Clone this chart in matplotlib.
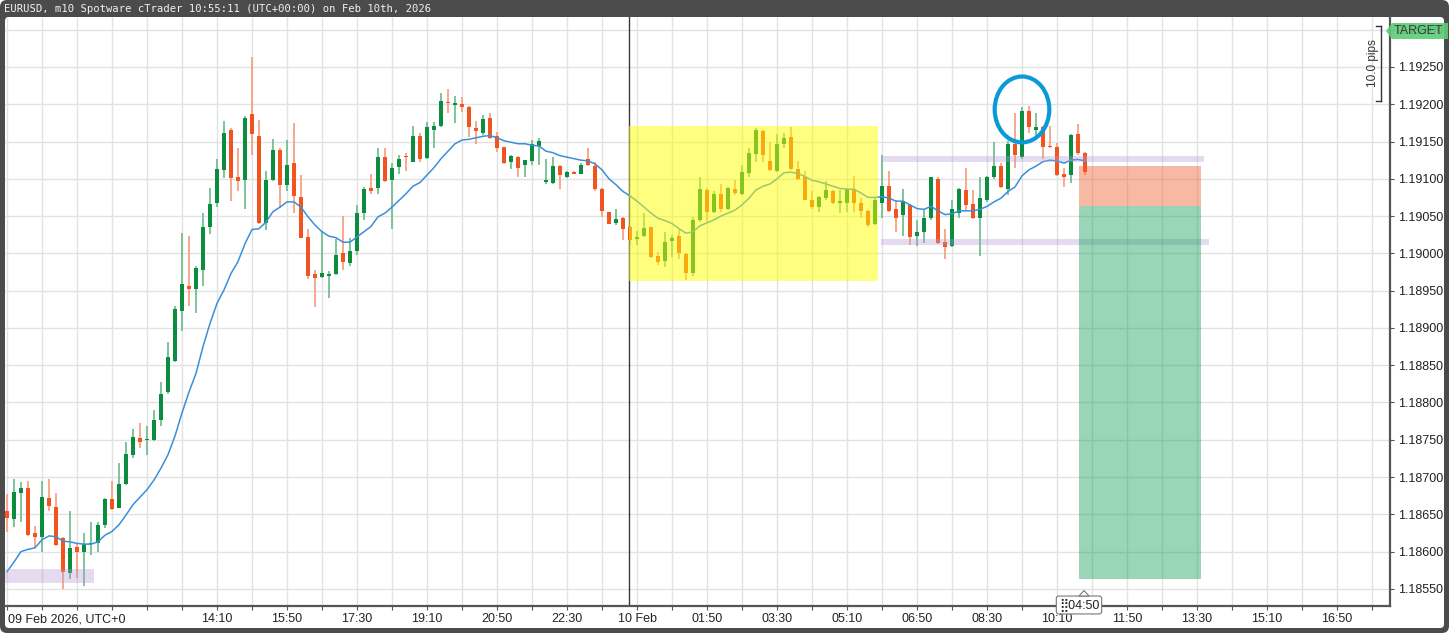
import numpy as np
import matplotlib
matplotlib.use('Agg')
import matplotlib.pyplot as plt
from matplotlib.patches import Rectangle, Ellipse, FancyBboxPatch, Polygon
from matplotlib.transforms import IdentityTransform

#%% data: EURUSD m10 bars, 09 Feb 2026 09:10 -> 10 Feb 2026 10:50 (UTC)
opens = [
    1.18654, 1.18644, 1.18679, 1.18685, 1.18625, 1.18619, 1.18672, 1.18660, 1.18618, 1.18571,
    1.18606, 1.18599, 1.18610, 1.18611, 1.18636, 1.18670, 1.18659, 1.18691, 1.18730, 1.18752,
    1.18749, 1.18749, 1.18776, 1.18814, 1.18856, 1.18923, 1.18956, 1.18952, 1.18978, 1.19036,
    1.19067, 1.19112, 1.19165, 1.19102, 1.19099, 1.19187, 1.19158, 1.19041, 1.19098, 1.19139,
    1.19091, 1.19121, 1.19076, 1.19022, 1.18972, 1.18968, 1.18970, 1.18972, 1.19000, 1.18987,
    1.19003, 1.19054, 1.19087, 1.19087, 1.19129, 1.19098, 1.19116, 1.19131, 1.19123, 1.19158,
    1.19128, 1.19166, 1.19171, 1.19203, 1.19200, 1.19200, 1.19196, 1.19168, 1.19162, 1.19181,
    1.19157, 1.19142, 1.19123, 1.19129, 1.19118, 1.19124, 1.19144, 1.19096, 1.19095, 1.19117,
    1.19103, 1.19109, 1.19107, 1.19126, 1.19117, 1.19086, 1.19055, 1.19041, 1.19047, 1.19036,
    1.19019, 1.19023, 1.19035, 1.18997, 1.18990, 1.19017, 1.19023, 1.18999, 1.18973, 1.19045,
    1.19085, 1.19056, 1.19080, 1.19059, 1.19086, 1.19079, 1.19108, 1.19133, 1.19164, 1.19124,
    1.19111, 1.19146, 1.19156, 1.19113, 1.19103, 1.19072, 1.19062, 1.19074, 1.19083, 1.19068,
    1.19067, 1.19086, 1.19067, 1.19057, 1.19039, 1.19068, 1.19090, 1.19059, 1.19051, 1.19065,
    1.19023, 1.19029, 1.19047, 1.19100, 1.19015, 1.19010, 1.19054, 1.19085, 1.19066, 1.19048,
    1.19071, 1.19102, 1.19117, 1.19086, 1.19147, 1.19129, 1.19191, 1.19165, 1.19170, 1.19144,
    1.19142, 1.19106, 1.19105, 1.19160, 1.19135]
highs = [
    1.18677, 1.18697, 1.18693, 1.18694, 1.18634, 1.18694, 1.18697, 1.18679, 1.18620, 1.18655,
    1.18610, 1.18625, 1.18640, 1.18640, 1.18672, 1.18694, 1.18719, 1.18747, 1.18765, 1.18773,
    1.18768, 1.18790, 1.18828, 1.18881, 1.18929, 1.19027, 1.19023, 1.18983, 1.19054, 1.19087,
    1.19127, 1.19177, 1.19168, 1.19141, 1.19184, 1.19264, 1.19179, 1.19110, 1.19153, 1.19141,
    1.19152, 1.19175, 1.19105, 1.19033, 1.18978, 1.19030, 1.18976, 1.19019, 1.19050, 1.19021,
    1.19065, 1.19089, 1.19107, 1.19141, 1.19141, 1.19121, 1.19132, 1.19135, 1.19171, 1.19161,
    1.19176, 1.19176, 1.19215, 1.19220, 1.19211, 1.19210, 1.19197, 1.19178, 1.19185, 1.19188,
    1.19163, 1.19143, 1.19132, 1.19130, 1.19125, 1.19152, 1.19155, 1.19127, 1.19129, 1.19118,
    1.19111, 1.19110, 1.19121, 1.19141, 1.19123, 1.19087, 1.19056, 1.19059, 1.19049, 1.19037,
    1.19030, 1.19054, 1.19036, 1.19002, 1.19029, 1.19024, 1.19031, 1.19001, 1.19049, 1.19102,
    1.19087, 1.19083, 1.19093, 1.19089, 1.19098, 1.19118, 1.19141, 1.19168, 1.19166, 1.19150,
    1.19160, 1.19161, 1.19169, 1.19124, 1.19110, 1.19083, 1.19077, 1.19097, 1.19085, 1.19085,
    1.19087, 1.19104, 1.19074, 1.19058, 1.19076, 1.19132, 1.19110, 1.19071, 1.19086, 1.19066,
    1.19045, 1.19059, 1.19103, 1.19102, 1.19032, 1.19071, 1.19087, 1.19115, 1.19085, 1.19102,
    1.19104, 1.19150, 1.19121, 1.19151, 1.19188, 1.19196, 1.19198, 1.19188, 1.19171, 1.19171,
    1.19148, 1.19114, 1.19160, 1.19173, 1.19136]
lows = [
    1.18626, 1.18633, 1.18640, 1.18621, 1.18605, 1.18600, 1.18655, 1.18608, 1.18550, 1.18563,
    1.18565, 1.18554, 1.18596, 1.18600, 1.18631, 1.18656, 1.18658, 1.18689, 1.18726, 1.18739,
    1.18730, 1.18748, 1.18769, 1.18812, 1.18854, 1.18896, 1.18929, 1.18920, 1.18956, 1.19026,
    1.19062, 1.19101, 1.19070, 1.19083, 1.19059, 1.19132, 1.19040, 1.19031, 1.19097, 1.19061,
    1.19084, 1.19054, 1.19020, 1.18965, 1.18928, 1.18967, 1.18940, 1.18971, 1.18978, 1.18983,
    1.18998, 1.19045, 1.19080, 1.19079, 1.19096, 1.19033, 1.19106, 1.19111, 1.19122, 1.19123,
    1.19127, 1.19141, 1.19170, 1.19188, 1.19175, 1.19190, 1.19156, 1.19147, 1.19159, 1.19154,
    1.19136, 1.19120, 1.19113, 1.19103, 1.19103, 1.19118, 1.19119, 1.19093, 1.19093, 1.19086,
    1.19101, 1.19106, 1.19106, 1.19117, 1.19083, 1.19049, 1.19039, 1.19038, 1.19018, 1.19011,
    1.19011, 1.19022, 1.18994, 1.18984, 1.18982, 1.18995, 1.18993, 1.18964, 1.18969, 1.19042,
    1.19042, 1.19054, 1.19056, 1.19058, 1.19078, 1.19078, 1.19103, 1.19123, 1.19123, 1.19111,
    1.19109, 1.19141, 1.19112, 1.19098, 1.19071, 1.19060, 1.19056, 1.19071, 1.19066, 1.19054,
    1.19056, 1.19056, 1.19048, 1.19035, 1.19038, 1.19047, 1.19056, 1.19029, 1.19023, 1.19011,
    1.19010, 1.19014, 1.19045, 1.19013, 1.18993, 1.19009, 1.19048, 1.19058, 1.19046, 1.18996,
    1.19069, 1.19100, 1.19088, 1.19078, 1.19114, 1.19127, 1.19162, 1.19153, 1.19126, 1.19141,
    1.19104, 1.19089, 1.19094, 1.19132, 1.19105]
closes = [
    1.18645, 1.18680, 1.18685, 1.18622, 1.18620, 1.18673, 1.18661, 1.18609, 1.18572, 1.18605,
    1.18600, 1.18610, 1.18611, 1.18636, 1.18670, 1.18657, 1.18691, 1.18731, 1.18754, 1.18747,
    1.18751, 1.18777, 1.18811, 1.18861, 1.18925, 1.18959, 1.18952, 1.18980, 1.19035, 1.19066,
    1.19113, 1.19162, 1.19101, 1.19097, 1.19182, 1.19160, 1.19041, 1.19098, 1.19138, 1.19092,
    1.19119, 1.19077, 1.19021, 1.18970, 1.18967, 1.18973, 1.18972, 1.18998, 1.18989, 1.19003,
    1.19054, 1.19086, 1.19084, 1.19129, 1.19097, 1.19115, 1.19127, 1.19129, 1.19157, 1.19126,
    1.19169, 1.19171, 1.19205, 1.19201, 1.19201, 1.19196, 1.19169, 1.19164, 1.19180, 1.19155,
    1.19141, 1.19121, 1.19130, 1.19114, 1.19125, 1.19146, 1.19151, 1.19098, 1.19117, 1.19105,
    1.19109, 1.19107, 1.19118, 1.19118, 1.19086, 1.19057, 1.19040, 1.19046, 1.19033, 1.19018,
    1.19022, 1.19034, 1.18995, 1.18989, 1.19015, 1.19021, 1.19001, 1.18974, 1.19045, 1.19086,
    1.19056, 1.19079, 1.19059, 1.19088, 1.19081, 1.19109, 1.19134, 1.19165, 1.19132, 1.19112,
    1.19146, 1.19155, 1.19113, 1.19100, 1.19072, 1.19062, 1.19075, 1.19085, 1.19067, 1.19070,
    1.19086, 1.19068, 1.19057, 1.19038, 1.19071, 1.19090, 1.19057, 1.19048, 1.19070, 1.19022,
    1.19029, 1.19047, 1.19102, 1.19014, 1.19009, 1.19059, 1.19086, 1.19065, 1.19047, 1.19074,
    1.19102, 1.19117, 1.19089, 1.19147, 1.19132, 1.19191, 1.19169, 1.19170, 1.19142, 1.19142,
    1.19105, 1.19103, 1.19159, 1.19135, 1.19109]
# moving average line as drawn on the chart
ma_line = [
    1.18573, 1.18586, 1.18600, 1.18603, 1.18605, 1.18616, 1.18621, 1.18620, 1.18614, 1.18613,
    1.18611, 1.18610, 1.18610, 1.18613, 1.18622, 1.18627, 1.18636, 1.18649, 1.18663, 1.18673,
    1.18683, 1.18696, 1.18712, 1.18730, 1.18755, 1.18786, 1.18814, 1.18839, 1.18875, 1.18906,
    1.18933, 1.18951, 1.18973, 1.18989, 1.19013, 1.19032, 1.19033, 1.19042, 1.19056, 1.19062,
    1.19069, 1.19069, 1.19062, 1.19049, 1.19038, 1.19029, 1.19023, 1.19021, 1.19015, 1.19015,
    1.19022, 1.19029, 1.19036, 1.19049, 1.19054, 1.19062, 1.19071, 1.19080, 1.19090, 1.19095,
    1.19105, 1.19115, 1.19127, 1.19137, 1.19147, 1.19152, 1.19153, 1.19155, 1.19157, 1.19158,
    1.19155, 1.19151, 1.19149, 1.19147, 1.19147, 1.19145, 1.19144, 1.19137, 1.19135, 1.19131,
    1.19129, 1.19127, 1.19125, 1.19124, 1.19120, 1.19112, 1.19100, 1.19092, 1.19083, 1.19077,
    1.19070, 1.19062, 1.19054, 1.19047, 1.19044, 1.19040, 1.19033, 1.19027, 1.19029, 1.19037,
    1.19041, 1.19045, 1.19050, 1.19054, 1.19058, 1.19065, 1.19074, 1.19085, 1.19090, 1.19093,
    1.19100, 1.19108, 1.19109, 1.19107, 1.19103, 1.19098, 1.19096, 1.19093, 1.19090, 1.19087,
    1.19086, 1.19086, 1.19081, 1.19075, 1.19075, 1.19076, 1.19074, 1.19070, 1.19070, 1.19065,
    1.19060, 1.19059, 1.19063, 1.19057, 1.19052, 1.19053, 1.19057, 1.19057, 1.19057, 1.19059,
    1.19063, 1.19069, 1.19074, 1.19083, 1.19089, 1.19104, 1.19112, 1.19117, 1.19123, 1.19125,
    1.19124, 1.19121, 1.19125, 1.19126, 1.19124]

price_ticks = [1.18550, 1.18600, 1.18650, 1.18700, 1.18750, 1.18800, 1.18850, 1.18900,
               1.18950, 1.19000, 1.19050, 1.19100, 1.19150, 1.19200, 1.19250, 1.19300]
time_tick_bars = [30, 40, 50, 60, 70, 80, 90, 100, 110, 120, 130, 140, 150, 160, 170, 180, 190]
time_tick_labels = ['14:10', '15:50', '17:30', '19:10', '20:50', '22:30', '10 Feb', '01:50',
                    '03:30', '05:10', '06:50', '08:30', '10:10', '11:50', '13:30', '15:10', '16:50']

# drawings on the chart (bar index / price)
box_yellow = (88.86, 124.4, 1.18963, 1.19171)
band_left = (-0.6, 12.4, 1.18558, 1.18577)
band_upper = (124.8, 171.0, 1.19123, 1.19131)
band_lower = (124.8, 171.7, 1.19011, 1.19019)
pos_x = (153.1, 170.6)
pos_stop, pos_entry, pos_target = 1.19117, 1.19063, 1.18563
circle_center = (145.0, 1.19193)
day_sep_bar = 88.86

GREEN = '#0b8c3e'
RED = '#f2541f'

#%% figure
W, H = 1449, 633
fig = plt.figure(figsize=(W / 100, H / 100), dpi=100)
fig.patch.set_facecolor('white')

# dark window frame + white chart area
frame = FancyBboxPatch((0, 0), W, H, boxstyle='round,pad=0,rounding_size=7',
                       fc='#4b4b4b', ec='none', transform=IdentityTransform(), zorder=-10)
inner = FancyBboxPatch((5, 5), W - 10, H - 22, boxstyle='round,pad=0,rounding_size=4',
                       fc='white', ec='none', transform=IdentityTransform(), zorder=-9)
fig.add_artist(frame)
fig.add_artist(inner)

ax = fig.add_axes([5 / W, 27 / H, 1385 / W, 589 / H])
ax.set_facecolor('none')

x = np.arange(len(opens))
o = np.array(opens); h = np.array(highs); l = np.array(lows); c = np.array(closes)
up = c >= o
body_col = np.where(up, GREEN, RED)
wick_col = np.where(up, '#74bf92', '#f6a184')

ax.vlines(x, l, h, colors=wick_col, lw=1.3, zorder=2)
body_lo = np.minimum(o, c)
body_h = np.abs(c - o)
min_h = 0.00002
body_lo = np.where(body_h < min_h, body_lo - (min_h - body_h) / 2, body_lo)
body_h = np.maximum(body_h, min_h)
ax.bar(x, body_h, bottom=body_lo, width=0.64, color=body_col, linewidth=0, zorder=3)

ax.plot(x, ma_line, color='#3b8fd8', lw=1.1, zorder=4)

ax.axvline(day_sep_bar, color='#3a3a3a', lw=1.0, zorder=2.5)

# horizontal zones
for x0, x1, y0, y1 in [band_left, band_upper, band_lower]:
    ax.add_patch(Rectangle((x0, y0), x1 - x0, y1 - y0, fc='#b49ad6', alpha=0.35,
                           ec='none', zorder=5))

# short position tool
ax.add_patch(Rectangle((pos_x[0], pos_entry), pos_x[1] - pos_x[0], pos_stop - pos_entry,
                       fc='#f05a28', alpha=0.42, ec='none', zorder=5))
ax.add_patch(Rectangle((pos_x[0], pos_target), pos_x[1] - pos_x[0], pos_entry - pos_target,
                       fc='#17a05a', alpha=0.44, ec='none', zorder=5))

# yellow box
bx0, bx1, by0, by1 = box_yellow
ax.add_patch(Rectangle((bx0, by0), bx1 - bx0, by1 - by0, fc='#ffff00', alpha=0.5,
                       ec='none', zorder=6))

# blue circle
ax.add_patch(Ellipse(circle_center, 7.8, 0.000884, fill=False, ec='#0a9ad8', lw=3.0, zorder=7))

# 10 pips ruler
ax.plot([196.3, 196.3], [1.19205, 1.19305], color='#333333', lw=1, zorder=7, clip_on=False)
ax.plot([195.6, 196.3], [1.19305, 1.19305], color='#333333', lw=1, zorder=7, clip_on=False)
ax.plot([195.6, 196.3], [1.19205, 1.19205], color='#333333', lw=1, zorder=7, clip_on=False)
ax.text(195.1, 1.19255, '10.0 pips', rotation=90, ha='center', va='center',
        fontsize=8.5, color='#333333', family='Liberation Sans', zorder=7)

# axes
ax.set_xlim(-0.286, 197.57)
ax.set_ylim(1.18527, 1.19317)
for s in ['left', 'top']:
    ax.spines[s].set_visible(False)
for s in ['right', 'bottom']:
    ax.spines[s].set_color('#555555')
    ax.spines[s].set_linewidth(1.6)

ax.yaxis.tick_right()
ax.set_yticks(price_ticks)
ax.set_yticklabels(['%.5f' % p for p in price_ticks])
ax.tick_params(axis='y', direction='out', length=3, color='#555555', pad=3,
               labelsize=9, labelcolor='#222222')

grid_bars = list(range(0, 200, 5))
ax.set_xticks(grid_bars)
labels = []
for b in grid_bars:
    labels.append(time_tick_labels[time_tick_bars.index(b)] if b in time_tick_bars else '')
ax.set_xticklabels(labels)
ax.tick_params(axis='x', direction='out', length=3, color='#555555', pad=2,
               labelsize=9, labelcolor='#222222')
for t in ax.get_xticklabels() + ax.get_yticklabels():
    t.set_family('Liberation Sans')

ax.grid(True, color='#e2e2e2', lw=1.0, zorder=0)
ax.set_axisbelow(True)

def fx(px):
    return px / W

def fy(py):
    return 1 - py / H

fig.text(fx(8), fy(619), '09 Feb 2026, UTC+0', ha='left', va='center', fontsize=9,
         color='#222222', family='Liberation Sans')

# title bar text
fig.text(fx(4), fy(9), 'EURUSD, m10 Spotware cTrader 10:55:11 (UTC+00:00) on Feb 10th, 2026',
         ha='left', va='center', fontsize=7.6, color='#f2f2f2', family='DejaVu Sans Mono')

# TARGET label on price scale
tgt = Polygon([[1386, H - 31], [1392, H - 23], [1448, H - 23], [1448, H - 39], [1392, H - 39]],
              closed=True, fc='#5ccb78', ec='none', alpha=0.9,
              transform=IdentityTransform(), zorder=5)
fig.add_artist(tgt)
fig.text(fx(1419), fy(31.5), 'TARGET', ha='center', va='center', fontsize=9,
         color='#3a3a3a', family='Liberation Sans', zorder=6)

# countdown tag on time scale
tag_arrow = Polygon([[1079, H - 596], [1084, H - 590.5], [1089, H - 596]], closed=True,
                    fc='white', ec='#777777', lw=0.8, transform=IdentityTransform(), zorder=6)
fig.text(fx(1079), fy(605), '\u28ff04:50', ha='center', va='center', fontsize=9,
         color='#222222', family=['Liberation Sans', 'DejaVu Sans'], zorder=5,
         bbox=dict(boxstyle='round,pad=0.2,rounding_size=0.2', fc='white', ec='#777777', lw=0.8))
fig.add_artist(tag_arrow)

plt.savefig('out.png', dpi=100)
